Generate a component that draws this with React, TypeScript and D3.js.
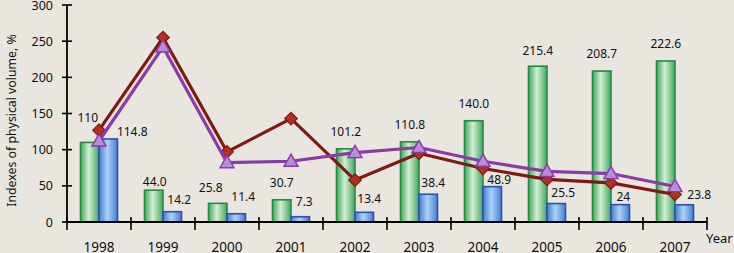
import React from "react";
import * as d3 from "d3";

const years = ["1998","1999","2000","2001","2002","2003","2004","2005","2006","2007"];
const greenValues = [110, 44.0, 25.8, 30.7, 101.2, 110.8, 140.0, 215.4, 208.7, 222.6];
const greenLabels = ["110","44.0","25.8","30.7","101.2","110.8","140.0","215.4","208.7","222.6"];
const blueValues = [114.8, 14.2, 11.4, 7.3, 13.4, 38.4, 48.9, 25.5, 24, 23.8];
const blueLabels = ["114.8","14.2","11.4","7.3","13.4","38.4","48.9","25.5","24","23.8"];
const redLine = [127, 255, 97, 143, 58, 95, 74, 59, 54, 38];
const purpleLine = [112, 242, 82, 84, 96, 103, 84, 70, 67, 49];
const yTicks = [0, 50, 100, 150, 200, 250, 300];

// label nudges (layout only)
const greenNudge: [number, number][] = [[-2,-8],[1,9],[-7,1],[0,0],[0,0],[0,0],[0,0],[0,1],[0,0],[0,0]];
const blueNudge: [number, number][] = [[18,5],[1,0],[1,-5],[-2,-3],[-1,-2],[-1,0],[1,5],[1,1],[-3,4],[9,2]];

const W = 734, H = 253;
const left = 67, right = 707, top = 5, bottom = 222;

export default function App() {
  const x = d3.scaleBand<string>().domain(years).range([left, right]).paddingInner(0.422).paddingOuter(0.211);
  const inner = d3.scaleBand<string>().domain(["g","b"]).range([0, x.bandwidth()]);
  const xc = d3.scalePoint<string>().domain(years).range([left, right]).padding(0.5);
  const y = d3.scaleLinear().domain([0, 300]).range([bottom, top]);
  const font = "'Noto Sans', 'DejaVu Sans', sans-serif";
  const lineGen = d3.line<number>().x((_, i) => xc(years[i])!).y(d => y(d));
  const diamond = d3.symbol().type(d3.symbolSquare).size(78)()!;
  const triangle = d3.symbol().type(d3.symbolTriangle).size(85)()!;
  const step = (right - left) / years.length;

  return (
    <svg width={W} height={H} style={{ position: "absolute", left: 0, top: 0, background: "#E9E5DF" }}>
      <defs>
        <linearGradient id="gGrad" x1="0" x2="1" y1="0" y2="0">
          <stop offset="0" stopColor="#3FA860" />
          <stop offset="0.45" stopColor="#D4EFD4" />
          <stop offset="1" stopColor="#3FA860" />
        </linearGradient>
        <linearGradient id="bGrad" x1="0" x2="1" y1="0" y2="0">
          <stop offset="0" stopColor="#4A7BD6" />
          <stop offset="0.45" stopColor="#A9D2F8" />
          <stop offset="1" stopColor="#4A7BD6" />
        </linearGradient>
      </defs>
      <rect x={0} y={0} width={W} height={H} fill="#E9E5DF" />

      {years.map((yr, i) => {
        const x0 = x(yr)!;
        return (
          <g key={yr}>
            <rect x={x0 + inner("g")!} y={y(greenValues[i])} width={inner.bandwidth()} height={bottom - y(greenValues[i])}
              fill="url(#gGrad)" stroke="#248A44" strokeWidth={1.6} />
            <rect x={x0 + inner("b")!} y={y(blueValues[i])} width={inner.bandwidth()} height={bottom - y(blueValues[i])}
              fill="url(#bGrad)" stroke="#2F52A8" strokeWidth={1.6} />
          </g>
        );
      })}

      {/* axes */}
      <line x1={left} x2={left} y1={top} y2={bottom} stroke="#000" strokeWidth={1.8} />
      <line x1={left} x2={right} y1={bottom} y2={bottom} stroke="#000" strokeWidth={1.8} />
      {yTicks.map(t => (
        <g key={t}>
          <line x1={left - 5} x2={left + 5} y1={y(t)} y2={y(t)} stroke="#000" strokeWidth={1.6} />
          <text x={53} y={y(t)} dy="0.36em" textAnchor="end" fontFamily={font} fontSize={12.5} fill="#111">{t}</text>
        </g>
      ))}
      {d3.range(years.length + 1).map(k => (
        <line key={k} x1={left + k * step} x2={left + k * step} y1={bottom - 5} y2={bottom + 8} stroke="#000" strokeWidth={1.6} />
      ))}
      {years.map(yr => (
        <text key={yr} x={xc(yr)} y={247} dy="0.36em" textAnchor="middle" fontFamily={font} fontSize={13.5} fill="#111">{yr}</text>
      ))}
      <text x={706} y={238} dy="0.36em" fontFamily={font} fontSize={13} fill="#111">Year</text>
      <text transform={`translate(12,${(top + bottom) / 2 + 7}) rotate(-90)`} textAnchor="middle" dy="0.36em"
        fontFamily={font} fontSize={12.3} fill="#111">Indexes of physical volume, %</text>

      {/* lines */}
      <path d={lineGen(redLine)!} fill="none" stroke="#7E1A12" strokeWidth={3.2} strokeLinejoin="round" />
      {redLine.map((v, i) => (
        <path key={i} d={diamond} transform={`translate(${xc(years[i])},${y(v)}) rotate(45)`} fill="#B0321E" stroke="#7E1A12" strokeWidth={1.2} />
      ))}
      <path d={lineGen(purpleLine)!} fill="none" stroke="#8B3AAA" strokeWidth={3.2} strokeLinejoin="round" />
      {purpleLine.map((v, i) => (
        <path key={i} d={triangle} transform={`translate(${xc(years[i])},${y(v) + 1})`} fill="#B78CDA" stroke="#8B3AAA" strokeWidth={1.4} />
      ))}

      {/* labels */}
      {years.map((yr, i) => {
        const gx = x(yr)! + inner("g")! + inner.bandwidth() / 2;
        const bx = x(yr)! + inner("b")! + inner.bandwidth() / 2;
        return (
          <g key={yr} fontFamily={font} fontSize={12} fill="#111">
            <text x={gx + greenNudge[i][0]} y={y(greenValues[i]) - 17 + greenNudge[i][1]} dy="0.36em" textAnchor="middle">{greenLabels[i]}</text>
            <text x={bx + 6 + blueNudge[i][0]} y={y(blueValues[i]) - 12 + blueNudge[i][1]} dy="0.36em" textAnchor="middle">{blueLabels[i]}</text>
          </g>
        );
      })}
    </svg>
  );
}
